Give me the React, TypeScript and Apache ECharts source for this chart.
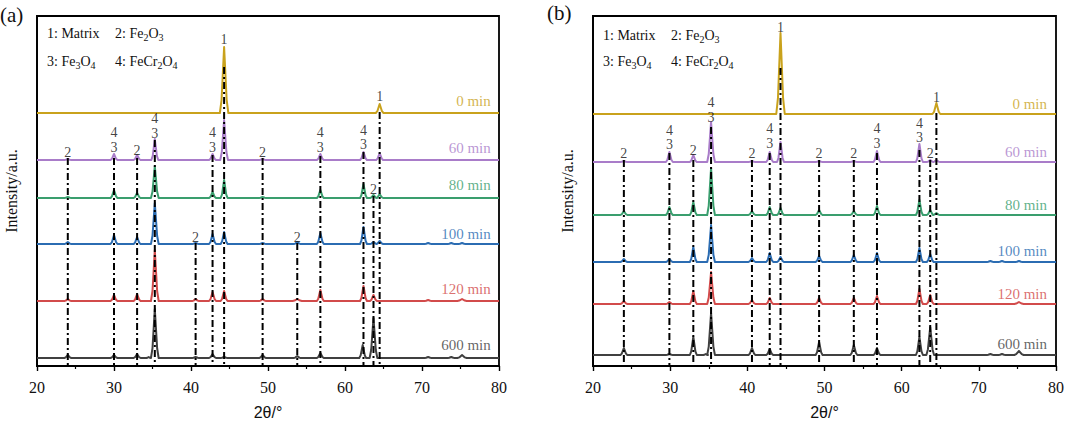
import React, { useEffect, useRef } from "react";
import * as echarts from "echarts";

type Peak = number[]; // [2theta, height, halfWidth?]

const SAMPLE_NAMES = ["0 min", "60 min", "80 min", "100 min", "120 min", "600 min"];
const SAMPLE_COLORS = ["#c9a21c", "#a97cc9", "#3a9e6e", "#2b6cb2", "#d24b4b", "#404040"];

// vertical stacking offsets (a.u.)
const A_OFFSETS = [253, 206, 168, 122, 65, 8];
const B_OFFSETS = [252, 204, 151, 104, 62, 11];

// panel (a) peaks: [2theta, intensity, half width]
const A_PEAKS_0: Peak[] = [[44.3, 66, 0.55], [64.5, 9, 0.5]];
const A_PEAKS_60: Peak[] = [[24.0, 1], [30.0, 6], [33.0, 5], [35.3, 21], [42.8, 6], [44.3, 40], [49.3, 1], [56.8, 6], [62.4, 8], [64.5, 7]];
const A_PEAKS_80: Peak[] = [[24.0, 1], [30.0, 8], [33.0, 5], [35.3, 32], [42.8, 6], [44.3, 18], [49.3, 1], [56.8, 8], [62.4, 14], [63.7, 3], [64.5, 4]];
const A_PEAKS_100: Peak[] = [[24.0, 2], [30.0, 9], [33.0, 7], [35.3, 41], [40.6, 1], [42.8, 10], [44.3, 12], [49.3, 1], [53.8, 2], [56.8, 11], [62.4, 17], [63.7, 2], [64.5, 3], [70.8, 1], [73.8, 1], [75.2, 1]];
const A_PEAKS_120: Peak[] = [[24.0, 2], [30.0, 6], [33.0, 7], [35.3, 51], [40.6, 2], [42.8, 9], [44.3, 10], [49.3, 2], [53.8, 2, 0.6], [56.8, 11], [62.4, 15], [63.7, 6], [70.8, 1], [75.2, 2, 0.6]];
const A_PEAKS_600: Peak[] = [[24.0, 3], [30.0, 3], [33.0, 4], [34.5, 1, 0.3], [35.3, 49], [40.6, 1], [42.8, 4], [44.3, 1], [49.3, 3], [53.8, 2], [56.8, 5], [62.3, 13], [63.7, 40], [70.8, 1], [73.8, 1], [75.2, 3, 0.6]];

// panel (b) peaks
const B_PEAKS_0: Peak[] = [[44.3, 81, 0.55], [64.5, 11, 0.5]];
const B_PEAKS_60: Peak[] = [[24.0, 1], [29.9, 10], [33.0, 7], [35.3, 40], [40.6, 1], [42.9, 10], [44.3, 20], [49.3, 1], [53.8, 1], [56.8, 11], [62.3, 18], [63.7, 2], [64.5, 2]];
const B_PEAKS_80: Peak[] = [[24.0, 4], [29.9, 8], [33.0, 13], [35.3, 47], [40.6, 4], [42.9, 8], [44.3, 7], [49.3, 5], [53.8, 4], [56.8, 9], [62.3, 15], [63.7, 5], [64.5, 2]];
const B_PEAKS_100: Peak[] = [[24.0, 3], [29.9, 3], [33.0, 15], [35.3, 37], [40.6, 4], [42.9, 9], [44.3, 5], [49.3, 6], [53.8, 7], [56.8, 9], [62.3, 14], [63.7, 8], [71.5, 1], [73.0, 1], [75.2, 1]];
const B_PEAKS_120: Peak[] = [[24.0, 3], [29.9, 2], [33.0, 13], [35.3, 32], [40.6, 4], [42.9, 6], [49.3, 6], [53.8, 6], [56.8, 8], [62.3, 15], [63.7, 9], [75.2, 2, 0.6]];
const B_PEAKS_600: Peak[] = [[24.0, 7], [29.9, 1], [33.0, 18], [34.6, 1, 0.3], [35.3, 42], [40.6, 7], [42.9, 6], [49.3, 13], [53.8, 10], [56.8, 7], [62.3, 18], [63.7, 28], [71.5, 1], [73.0, 1], [75.2, 4, 0.6]];

const A_PEAKS = [A_PEAKS_0, A_PEAKS_60, A_PEAKS_80, A_PEAKS_100, A_PEAKS_120, A_PEAKS_600];
const B_PEAKS = [B_PEAKS_0, B_PEAKS_60, B_PEAKS_80, B_PEAKS_100, B_PEAKS_120, B_PEAKS_600];

// reference dash-dot lines: [2theta, top intensity]
const A_REF_LINES = [[24.0, 208], [30.0, 208], [33.0, 208], [35.3, 226], [40.6, 123], [42.8, 211], [44.3, 299], [49.3, 208], [53.8, 123], [56.8, 210], [62.4, 214], [63.7, 170], [64.5, 254]];
const B_REF_LINES = [[24.0, 206], [29.9, 213], [33.0, 206], [35.3, 239], [40.6, 206], [42.9, 213], [44.3, 298], [49.3, 206], [53.8, 206], [56.8, 213], [62.3, 216], [63.7, 206], [64.5, 253]];

// phase index labels: [label, 2theta, intensity]
const A_MARKS: [string, number, number][] = [
  ["1", 44.3, 327], ["1", 64.5, 270],
  ["2", 24.0, 214], ["4", 30.0, 234], ["3", 30.0, 219], ["2", 33.0, 216],
  ["4", 35.3, 248], ["3", 35.3, 233], ["4", 42.8, 234], ["3", 42.8, 219],
  ["2", 49.3, 214], ["4", 56.8, 234], ["3", 56.8, 219], ["4", 62.4, 236], ["3", 62.4, 222],
  ["2", 63.7, 177], ["2", 40.6, 129], ["2", 53.8, 129],
];
const B_MARKS: [string, number, number][] = [
  ["1", 44.3, 339], ["1", 64.5, 269], ["4", 35.3, 264], ["3", 35.3, 249],
  ["2", 24.0, 213], ["4", 29.9, 236], ["3", 29.9, 222], ["2", 33.0, 216], ["2", 40.6, 213],
  ["4", 42.9, 238], ["3", 42.9, 223], ["2", 49.3, 213], ["2", 53.8, 213],
  ["4", 56.8, 238], ["3", 56.8, 223], ["4", 62.3, 243], ["3", 62.3, 229], ["2", 63.7, 213],
];

// sample-name label anchors (right edge)
const A_NAME_X = 79.0;
const B_NAME_X = 78.9;
const A_NAME_Y = [265, 218, 181, 132, 77, 21];
const B_NAME_Y = [262, 214, 161, 115, 72, 22];

const X_MIN = 20;
const X_MAX = 80;
const X_INTERVAL = 10;
const Y_MAX = 350;

const SERIF = "'Liberation Serif', 'Times New Roman', serif";
const SANS = "'Liberation Sans', Arial, sans-serif";
const INK = "#111111";

function buildTrace(offset: number, peaks: Peak[]): number[][] {
  const pts: number[][] = [[X_MIN, offset]];
  const sorted = [...peaks].sort((p, q) => p[0] - q[0]);
  for (const p of sorted) {
    const [pos, h] = p;
    const w = p[2] ?? (h > 25 ? 0.5 : 0.45);
    pts.push([pos - w, offset]);
    pts.push([pos - w * 0.6, offset + h * 0.2]);
    pts.push([pos, offset + h]);
    pts.push([pos + w * 0.6, offset + h * 0.2]);
    pts.push([pos + w, offset]);
  }
  pts.push([X_MAX, offset]);
  return pts;
}

function panelSeries(idx: number, offsets: number[], peaks: Peak[][], refLines: number[][], marks: [string, number, number][], nameX: number, nameY: number[]) {
  const series: any[] = [];
  offsets.forEach((off, i) => {
    series.push({
      type: "line",
      name: SAMPLE_NAMES[i],
      xAxisIndex: idx,
      yAxisIndex: idx,
      data: buildTrace(off, peaks[i]),
      showSymbol: false,
      symbol: "none",
      lineStyle: { color: SAMPLE_COLORS[i], width: 2, join: "round" },
      z: 2,
      silent: true,
    });
  });
  refLines.forEach(([x, top]) => {
    series.push({
      type: "line",
      xAxisIndex: idx,
      yAxisIndex: idx,
      data: [[x, top], [x, 0]],
      showSymbol: false,
      symbol: "none",
      lineStyle: { color: "#000", width: 2, type: [7, 3, 2, 3] },
      z: 3,
      silent: true,
    });
  });
  series.push({
    type: "scatter",
    xAxisIndex: idx,
    yAxisIndex: idx,
    symbolSize: 1,
    color: INK,
    itemStyle: { color: "transparent" },
    data: marks.map(([t, x, y]) => ({ value: [x, y], name: t })),
    label: {
      show: true,
      position: "inside",
      formatter: (p: any) => p.name,
      fontFamily: SERIF,
      fontSize: 14,
      lineHeight: 12,
      color: INK,
      textBorderWidth: 0,
    },
    z: 4,
    silent: true,
  });
  series.push({
    type: "scatter",
    xAxisIndex: idx,
    yAxisIndex: idx,
    symbolSize: 1,
    itemStyle: { color: "transparent" },
    data: nameY.map((y, i) => ({
      value: [nameX, y],
      name: SAMPLE_NAMES[i],
      label: { color: SAMPLE_COLORS[i] },
    })),
    label: {
      show: true,
      position: "left",
      distance: 0,
      formatter: (p: any) => p.name,
      fontFamily: SERIF,
      fontSize: 15,
      textBorderWidth: 0,
    },
    z: 4,
    silent: true,
  });
  return series;
}

function axisX(idx: number) {
  return {
    type: "value",
    gridIndex: idx,
    min: X_MIN,
    max: X_MAX,
    interval: X_INTERVAL,
    name: "2θ/°",
    nameLocation: "middle",
    nameGap: 38,
    nameTextStyle: { fontFamily: SANS, fontSize: 16, color: INK },
    axisLine: { show: true, lineStyle: { color: "#000", width: 1.8 } },
    axisTick: { show: true, inside: false, length: 5, lineStyle: { color: "#000", width: 1.4 } },
    minorTick: { show: true, splitNumber: 2, length: 3, lineStyle: { color: "#000", width: 1.2 } },
    axisLabel: { fontFamily: SERIF, fontSize: 16, color: INK, margin: 13 },
    splitLine: { show: false },
  };
}

function axisY(idx: number) {
  return {
    type: "value",
    gridIndex: idx,
    min: 0,
    max: Y_MAX,
    name: "Intensity/a.u.",
    nameLocation: "middle",
    nameGap: 18,
    nameTextStyle: { fontFamily: SERIF, fontSize: 16, color: INK },
    axisLine: { show: true, lineStyle: { color: "#000", width: 1.8 } },
    axisTick: { show: false },
    axisLabel: { show: false },
    splitLine: { show: false },
  };
}

const textBase = { fontFamily: SERIF, fontSize: 14, fill: INK };
const rich = {
  n: { fontFamily: SERIF, fontSize: 14, color: INK, lineHeight: 18 },
  s: { fontFamily: SERIF, fontSize: 10, color: INK, lineHeight: 11, verticalAlign: "bottom" },
};

function legendTexts(x1: number, x2: number, y1: number, y2: number) {
  return [
    { type: "text", left: x1, top: y1, style: { ...textBase, text: "{n|1: Matrix}", rich } },
    { type: "text", left: x2, top: y1, style: { ...textBase, text: "{n|2: Fe}{s|2}{n|O}{s|3}", rich } },
    { type: "text", left: x1, top: y2, style: { ...textBase, text: "{n|3: Fe}{s|3}{n|O}{s|4}", rich } },
    { type: "text", left: x2, top: y2, style: { ...textBase, text: "{n|4: FeCr}{s|2}{n|O}{s|4}", rich } },
  ];
}

export default function App() {
  const ref = useRef<HTMLDivElement>(null);
  useEffect(() => {
    if (!ref.current) return;
    const chart = echarts.init(ref.current, null, { renderer: "svg" });
    const gridBase = { show: true, borderColor: "#000", borderWidth: 1.8, backgroundColor: "transparent", containLabel: false, outerBoundsMode: "none" };
    const option: any = {
      animation: false,
      backgroundColor: "#fff",
      grid: [
        { ...gridBase, left: 37, top: 16, width: 462, height: 350 },
        { ...gridBase, left: 593, top: 16, width: 463, height: 350 },
      ],
      xAxis: [axisX(0), axisX(1)],
      yAxis: [axisY(0), axisY(1)],
      series: [
        ...panelSeries(0, A_OFFSETS, A_PEAKS, A_REF_LINES, A_MARKS, A_NAME_X, A_NAME_Y),
        ...panelSeries(1, B_OFFSETS, B_PEAKS, B_REF_LINES, B_MARKS, B_NAME_X, B_NAME_Y),
      ],
      graphic: [
        { type: "text", left: 0, top: 4, style: { text: "(a)", fontFamily: SERIF, fontSize: 21, fill: INK } },
        { type: "text", left: 547, top: 2, style: { text: "(b)", fontFamily: SERIF, fontSize: 21, fill: INK } },
        ...legendTexts(47, 115, 26, 54),
        ...legendTexts(603, 671, 28, 54),
      ],
    };
    chart.setOption(option);
    return () => chart.dispose();
  }, []);
  return (
    <div
      ref={ref}
      style={{ position: "absolute", left: 0, top: 0, width: 1080, height: 421, background: "#fff" }}
    />
  );
}
